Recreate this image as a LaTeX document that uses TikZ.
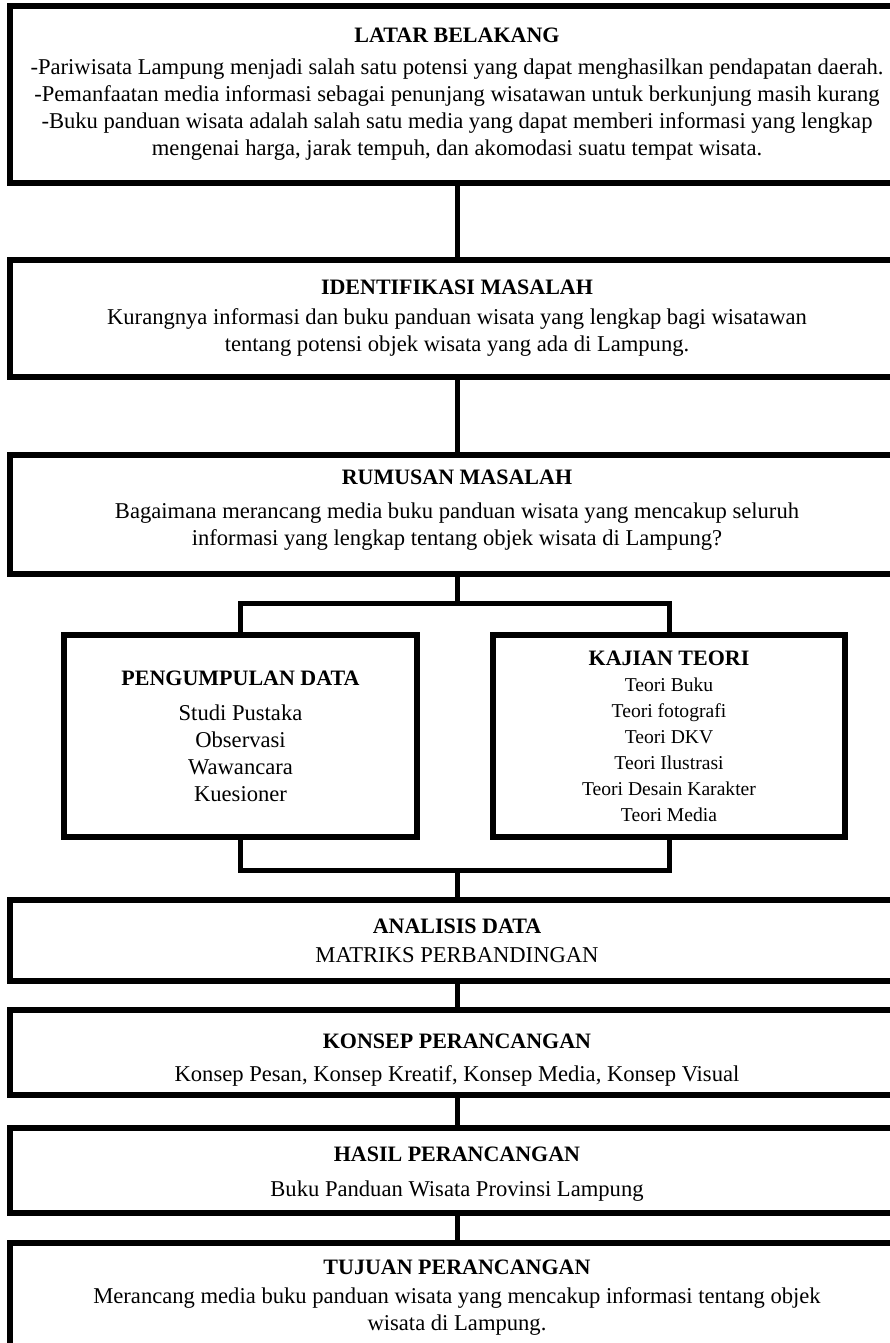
\documentclass[tikz,border=0pt]{standalone}
\usepackage{fontspec}
\setmainfont{Liberation Serif}
\usepackage{tikz}
\usetikzlibrary{positioning}

\newcommand{\boxhead}[1]{{\fontsize{11}{13.5}\selectfont\textbf{#1}}}

\begin{document}
\begin{tikzpicture}[x=0.5pt,y=-0.5pt,
        box/.style={draw, line width=2.8pt, rectangle, align=center, inner sep=0pt,
                    minimum width=447pt, font=\fontsize{11.3}{13.5}\selectfont},
        sidebox/.style={draw, line width=2.8pt, rectangle, align=center, inner sep=0pt,
                    minimum width=176.5pt, minimum height=101pt},
        link/.style={line width=2.5pt}]
                \useasboundingbox (0,0) rectangle (889,1343);
                % main column
                \node[box, minimum height=88.5pt] (latar) at (457,94.5)
                    {\boxhead{LATAR BELAKANG}\\[2.5pt]
                     -Pariwisata Lampung menjadi salah satu potensi yang dapat menghasilkan pendapatan daerah.\\
                     -Pemanfaatan media informasi sebagai penunjang wisatawan untuk berkunjung masih kurang\\
                     -Buku panduan wisata adalah salah satu media yang dapat memberi informasi yang lengkap\\
                     mengenai harga, jarak tempuh, dan akomodasi suatu tempat wisata.};
                \node[box, minimum height=58.5pt] (ident) at (457,318.5)
                    {\boxhead{IDENTIFIKASI MASALAH}\\[1.5pt]
                     Kurangnya informasi dan buku panduan wisata yang lengkap bagi wisatawan\\
                     tentang potensi objek wisata yang ada di Lampung.};
                \node[box, minimum height=59.5pt] (rumusan) at (457,514.5)
                    {\boxhead{RUMUSAN MASALAH}\\[3.5pt]
                     Bagaimana merancang media buku panduan wisata yang mencakup seluruh\\
                     informasi yang lengkap tentang objek wisata di Lampung?\rule[-6.5pt]{0pt}{1pt}};
                % two branches
                \node[sidebox, font=\fontsize{11.3}{13.5}\selectfont] (data) at (240.5,736)
                    {\boxhead{PENGUMPULAN DATA}\\[4pt]
                     Studi Pustaka\\ Observasi\\ Wawancara\\ Kuesioner};
                \node[sidebox, minimum width=176pt, font=\fontsize{9.8}{13}\selectfont] (teori) at (669,736)
                    {\boxhead{KAJIAN TEORI}\\
                     Teori Buku\\ Teori fotografi\\ Teori DKV\\ Teori Ilustrasi\\
                     Teori Desain Karakter\\ Teori Media};
                \node[box, minimum height=40.5pt] (analisis) at (457,940.5)
                    {\boxhead{ANALISIS DATA}\\[1pt] MATRIKS PERBANDINGAN};
                \node[box, minimum height=42.5pt] (konsep) at (457,1052.5)
                    {\rule{0pt}{15pt}\boxhead{KONSEP PERANCANGAN}\\[3pt]
                     Konsep Pesan, Konsep Kreatif, Konsep Media, Konsep Visual};
                \node[box, minimum height=42.5pt] (hasil) at (457,1170.5)
                    {\rule{0pt}{11pt}\boxhead{HASIL PERANCANGAN}\\[4pt]
                     Buku Panduan Wisata Provinsi Lampung};
                \node[box, minimum height=51.5pt] (tujuan) at (457,1294.5)
                    {\rule{0pt}{10pt}\boxhead{TUJUAN PERANCANGAN}\\[1pt]
                     Merancang media buku panduan wisata yang mencakup informasi tentang objek\\
                     wisata di Lampung.};

                \coordinate (split) at (457,603);
                \coordinate (merge) at (457,870);
                \draw[link] (latar) -- (ident);
                \draw[link] (ident) -- (rumusan);
                \draw[link] (rumusan) -- (split);
                \draw[link] (data.north) |- (split) -| (teori.north);
                \draw[link] (data.south) |- (merge) -| (teori.south);
                \draw[link] (merge) -- (analisis);
                \draw[link] (analisis) -- (konsep);
                \draw[link] (konsep) -- (hasil);
                \draw[link] (hasil) -- (tujuan);
\end{tikzpicture}
\end{document}
